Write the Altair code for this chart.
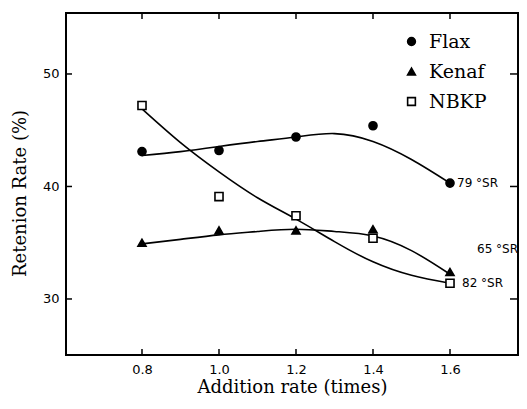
import altair as alt
import pandas as pd

# ---- data ----
x_points = [0.8, 1.0, 1.2, 1.4, 1.6]
flax_pts = [43.1, 43.2, 44.4, 45.4, 40.3]
kenaf_pts = [35.0, 36.1, 36.1, 36.2, 32.4]
nbkp_pts = [47.2, 39.1, 37.4, 35.4, 31.4]

x_curve = [0.8, 0.9, 1.0, 1.1, 1.2, 1.3, 1.4, 1.5, 1.6]
flax_curve = [42.75, 43.1, 43.55, 44.0, 44.4, 44.7, 44.0, 42.4, 40.3]
kenaf_curve = [34.9, 35.3, 35.7, 36.0, 36.2, 36.0, 35.6, 34.3, 32.2]
nbkp_curve = [46.9, 43.9, 41.3, 39.0, 37.1, 35.1, 33.3, 32.1, 31.4]

series = ["Flax", "Kenaf", "NBKP"]

ann_text = ["79 °SR", "65 °SR", "82 °SR"]
ann_y = [40.3, 34.4, 31.4]
ann_dx = [7, 27, 12]

x_ticks = [0.8, 1.0, 1.2, 1.4, 1.6]
y_ticks = [30, 40, 50]

W, H = 452, 342

pts = pd.DataFrame(
    [{"x": x, "y": v, "fiber": s}
     for s, vals in zip(series, [flax_pts, kenaf_pts, nbkp_pts])
     for x, v in zip(x_points, vals)]
)
curves = pd.DataFrame(
    [{"x": x, "y": v, "fiber": s}
     for s, vals in zip(series, [flax_curve, kenaf_curve, nbkp_curve])
     for x, v in zip(x_curve, vals)]
)
xt = pd.DataFrame({"x": x_ticks})
yt = pd.DataFrame({"y": y_ticks})

xscale = alt.Scale(domain=[0.6026, 0.6026 + W / 385.0], nice=False, zero=False)
yscale = alt.Scale(domain=[55.42 - H / 11.25, 55.42], nice=False, zero=False)

xaxis = alt.Axis(values=x_ticks, format=".1f", tickSize=0, domain=False, grid=False,
                 labelPadding=8, labelFont="DejaVu Sans", labelFontSize=13,
                 labelColor="black", title="Addition rate (times)",
                 titleFont="DejaVu Serif", titleFontSize=18, titleFontWeight="normal",
                 titleColor="black", titlePadding=2)
yaxis = alt.Axis(values=y_ticks, tickSize=0, domain=False, grid=False,
                 labelPadding=7, labelFont="DejaVu Sans", labelFontSize=13,
                 labelColor="black", title="Retenion Rate (%)",
                 titleFont="DejaVu Serif", titleFontSize=18, titleFontWeight="normal",
                 titleColor="black", titleX=-46, titleY=180, titleBaseline="middle")

lines = alt.Chart(curves).mark_line(color="black", strokeWidth=1.6, interpolate="natural").encode(
    x=alt.X("x:Q", scale=xscale, axis=xaxis),
    y=alt.Y("y:Q", scale=yscale, axis=yaxis),
    detail="fiber:N",
)

legend = alt.Legend(orient="none", legendX=336, legendY=19, title=None, padding=0,
                    labelFont="DejaVu Serif", labelFontSize=19, labelColor="black",
                    labelOffset=8, rowPadding=10, symbolStrokeWidth=1.6, symbolSize=60)

points = alt.Chart(pts).mark_point(filled=False, strokeWidth=1.6, size=65, opacity=1).encode(
    x=alt.X("x:Q", scale=xscale),
    y=alt.Y("y:Q", scale=yscale),
    shape=alt.Shape("fiber:N", scale=alt.Scale(domain=series, range=["circle", "triangle-up", "square"]), legend=legend),
    fill=alt.Fill("fiber:N", scale=alt.Scale(domain=series, range=["black", "black", "white"]), legend=legend),
    stroke=alt.Stroke("fiber:N", scale=alt.Scale(domain=series, range=["black", "black", "black"]), legend=legend),
)

ann_layers = []
for t, yv, dx in zip(ann_text, ann_y, ann_dx):
    d = pd.DataFrame({"x": [x_points[-1]], "y": [yv], "t": [t]})
    ann_layers.append(
        alt.Chart(d).mark_text(align="left", baseline="middle", font="DejaVu Sans",
                               fontSize=12, color="black", dx=dx).encode(
            x=alt.X("x:Q", scale=xscale),
            y=alt.Y("y:Q", scale=yscale),
            text="t:N",
        )
    )

tick_bottom = alt.Chart(xt).mark_rule(color="black", strokeWidth=1.5).encode(
    x=alt.X("x:Q", scale=xscale), y=alt.value(H), y2=alt.value(H - 6))
tick_top = alt.Chart(xt).mark_rule(color="black", strokeWidth=1.5).encode(
    x=alt.X("x:Q", scale=xscale), y=alt.value(0), y2=alt.value(6))
tick_left = alt.Chart(yt).mark_rule(color="black", strokeWidth=1.5).encode(
    y=alt.Y("y:Q", scale=yscale), x=alt.value(0), x2=alt.value(6))
tick_right = alt.Chart(yt).mark_rule(color="black", strokeWidth=1.5).encode(
    y=alt.Y("y:Q", scale=yscale), x=alt.value(W), x2=alt.value(W - 8))

chart = alt.layer(lines, points, *ann_layers, tick_bottom, tick_top, tick_left, tick_right).properties(
    width=W, height=H, autosize="none",
    padding={"left": 58, "top": 5, "right": 1, "bottom": 41},
    background="white",
).configure_view(stroke="black", strokeWidth=2)

chart.save("out.html", embed_options={"renderer": "svg", "actions": False})
